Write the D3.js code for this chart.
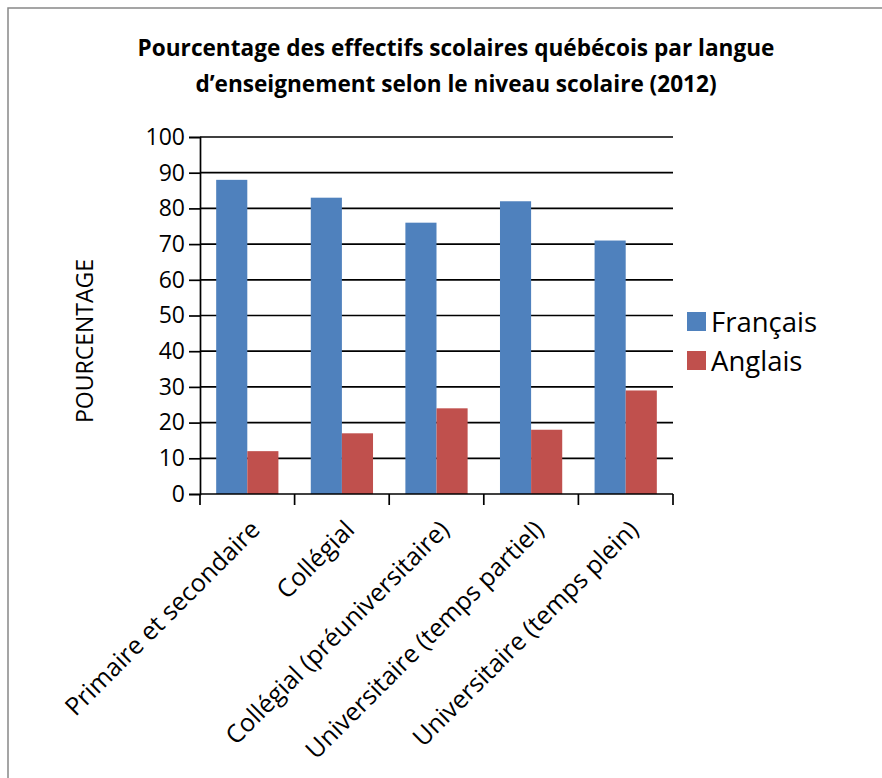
<!DOCTYPE html>
<html><head><meta charset="utf-8">
<script src="https://cdn.jsdelivr.net/npm/d3@7"></script>
<style>
html,body{margin:0;padding:0;background:#fff;}
svg text{font-family:"Open Sans","DejaVu Sans",sans-serif;fill:#000;}
</style></head>
<body>
<svg id="chart" width="882" height="778"></svg>
<script>
const categories = ["Primaire et secondaire","Collégial","Collégial (préuniversitaire)","Universitaire (temps partiel)","Universitaire (temps plein)"];
const seriesNames = ["Français","Anglais"];
const francais = [88,83,76,82,71];
const anglais = [12,17,24,18,29];
const yTicks = [0,10,20,30,40,50,60,70,80,90,100];
const titleLines = ["Pourcentage des effectifs scolaires québécois par langue","d’enseignement selon le niveau scolaire (2012)"];
const yTitle = "POURCENTAGE";
const colors = ["#4F81BD","#C0504D"];

const svg = d3.select("#chart");
const W=882,H=778;
svg.append("rect").attr("x",8).attr("y",8).attr("width",W).attr("height",H).attr("fill","#fff").attr("stroke","#888").attr("stroke-width",1.5);

const m={left:200,right:673,top:137,bottom:494};
const x = d3.scaleBand().domain(categories).range([m.left,m.right]).padding(0);
const xs = d3.scaleBand().domain(seriesNames).range([0,x.bandwidth()]).paddingInner(0).paddingOuter(0.52);
const y = d3.scaleLinear().domain([0,100]).range([m.bottom,m.top]);

// gridlines
svg.append("g").selectAll("line").data(yTicks.filter(d=>d>0)).join("line")
  .attr("x1",m.left).attr("x2",m.right).attr("y1",d=>y(d)).attr("y2",d=>y(d))
  .attr("stroke","#000").attr("stroke-width",1.7);

// bars
const data = categories.map((c,i)=>({c,vals:[francais[i],anglais[i]]}));
const g = svg.append("g").selectAll("g").data(data).join("g").attr("transform",d=>`translate(${x(d.c)},0)`);
g.selectAll("rect").data(d=>d.vals.map((v,j)=>({k:seriesNames[j],v,j}))).join("rect")
  .attr("x",d=>xs(d.k)).attr("width",xs.bandwidth())
  .attr("y",d=>y(d.v)).attr("height",d=>y(0)-y(d.v)).attr("fill",d=>colors[d.j]);

// y axis
const ya = svg.append("g").attr("transform",`translate(${m.left},0)`)
  .call(d3.axisLeft(y).tickValues(yTicks).tickSize(11).tickPadding(4));
ya.select(".domain").attr("stroke","#000").attr("stroke-width",1.7);
ya.selectAll(".tick line").attr("stroke","#000").attr("stroke-width",1.7);
ya.selectAll(".tick text").attr("font-size",23).attr("font-family","'Open Sans'").attr("fill","#000");

// x axis
const xTickVals = categories.map(c=>x(c)).concat([m.right]);
const xa = svg.append("g").attr("transform",`translate(0,${m.bottom})`);
xa.append("line").attr("x1",m.left).attr("x2",m.right).attr("stroke","#000").attr("stroke-width",1.7);
xa.selectAll("line.t").data(xTickVals).join("line").attr("class","t")
  .attr("x1",d=>d).attr("x2",d=>d).attr("y1",0).attr("y2",11).attr("stroke","#000").attr("stroke-width",1.7);
xa.selectAll("text").data(categories).join("text")
  .attr("transform",d=>`translate(${x(d)+x.bandwidth()/2+8},${31}) rotate(-45)`)
  .attr("text-anchor","end").attr("dy","0.35em").attr("font-size",25).text(d=>d);

// y title
svg.append("text").attr("transform",`translate(85,341) rotate(-90)`)
  .attr("text-anchor","middle").attr("dy","0.35em").attr("font-size",23).text(yTitle);

// title
svg.append("g").selectAll("text").data(titleLines).join("text")
  .attr("x",456).attr("y",(d,i)=>48+i*36).attr("dy","0.35em").attr("text-anchor","middle")
  .attr("font-size",22.6).attr("font-weight","bold").text(d=>d);

// legend
const lg = svg.append("g").selectAll("g").data(seriesNames).join("g")
  .attr("transform",(d,i)=>`translate(687,${312+i*39})`);
lg.append("rect").attr("width",19).attr("height",19).attr("fill",(d,i)=>colors[i]);
lg.append("text").attr("x",24).attr("y",10).attr("dy","0.35em").attr("font-size",27.5).text(d=>d);
</script>
</body></html>
